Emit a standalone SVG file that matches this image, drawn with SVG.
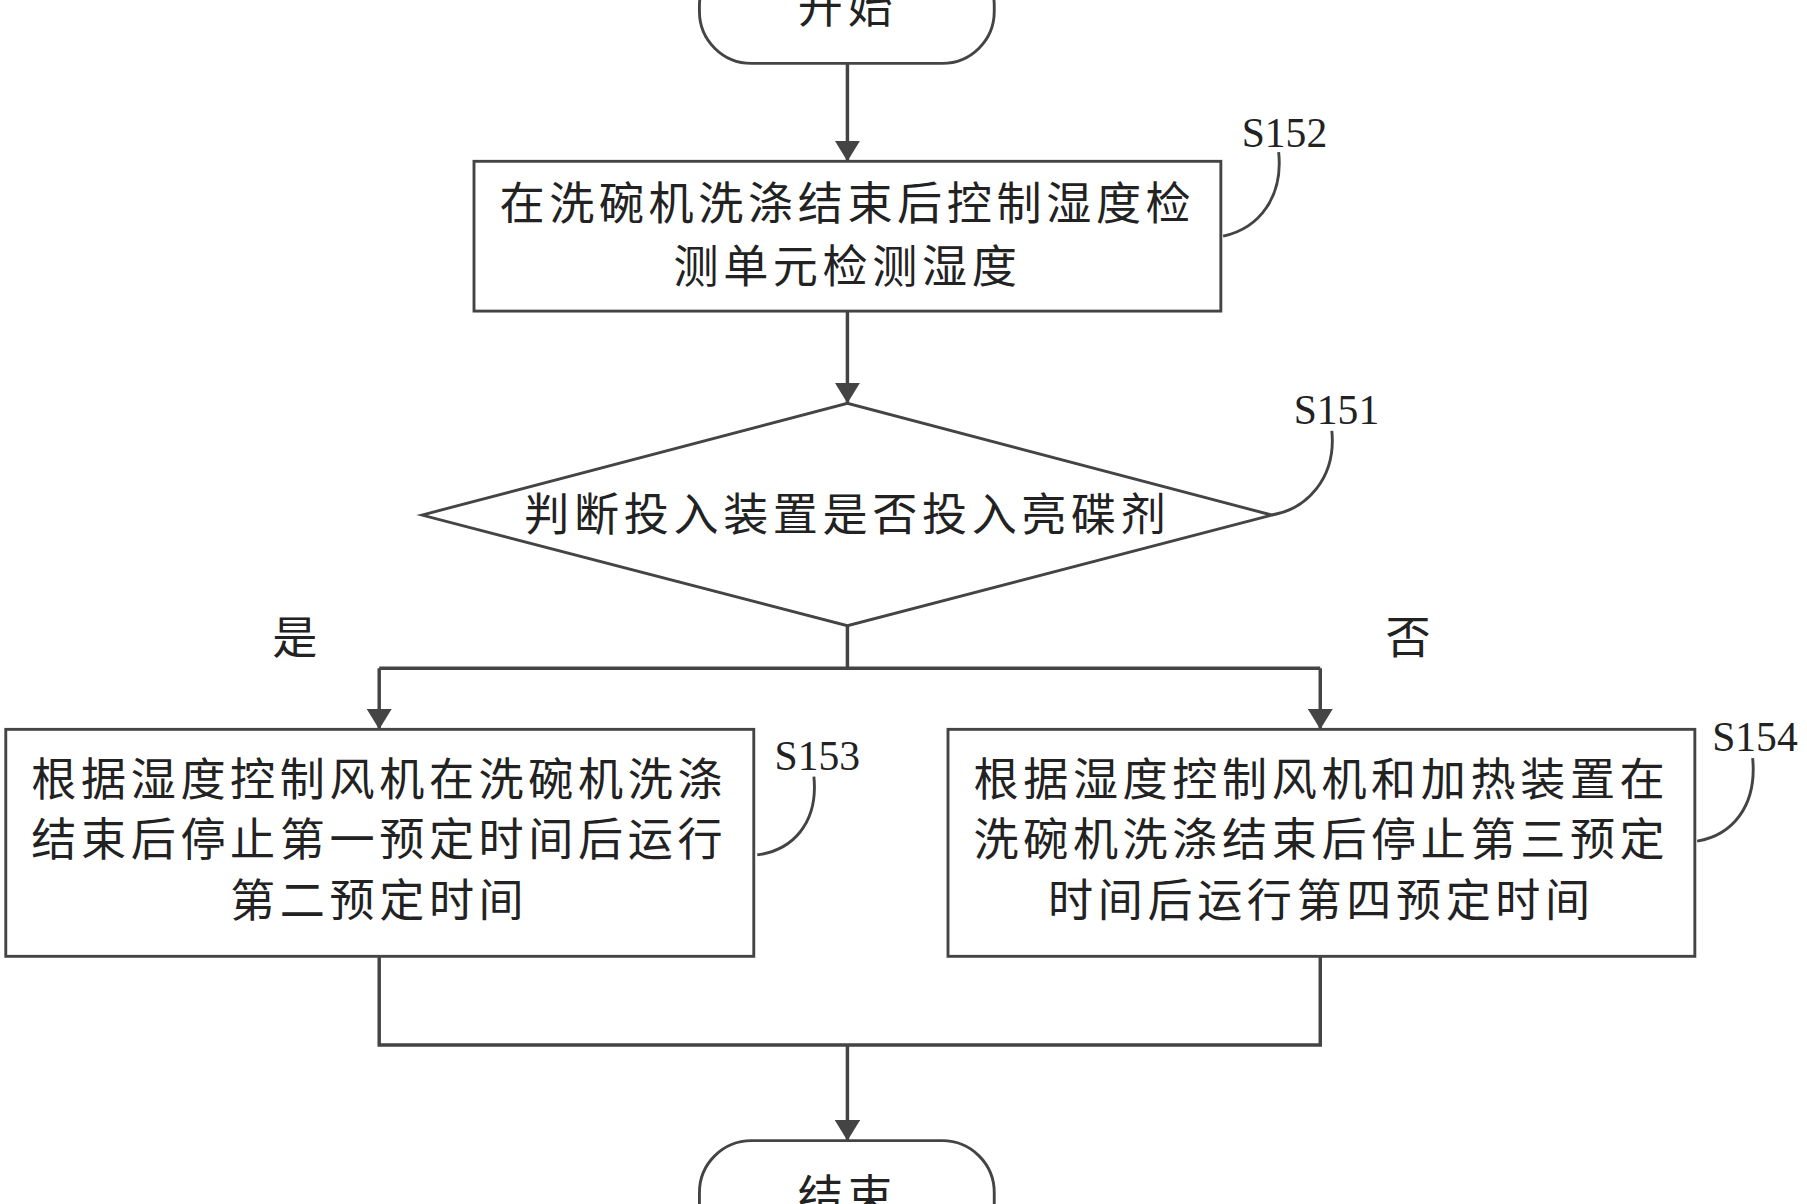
<svg xmlns="http://www.w3.org/2000/svg" width="1807" height="1204" viewBox="0 0 1807 1204">
<defs>
<style>
.s{fill:#fff;stroke:#444;stroke-width:2.5}
.l{fill:none;stroke:#444;stroke-width:2.5}
.a{fill:none;stroke:#444;stroke-width:3}
.t{font-family:"Noto Sans CJK SC","Liberation Serif",sans-serif;font-size:39px;letter-spacing:4px;fill:#222;text-anchor:middle}
.n{font-family:"Liberation Serif",serif;font-size:36px;fill:#222;text-anchor:middle}
</style>
<marker id="m" viewBox="0 0 12 12" refX="12" refY="6" markerWidth="18" markerHeight="22" markerUnits="userSpaceOnUse" orient="auto" preserveAspectRatio="none"><path d="M0,0 L12,6 L0,12 z" fill="#444"/></marker>
</defs>
<rect width="1807" height="1204" fill="#fff"/>
<g transform="scale(1.1561,1.1522)">
<g id="connectors">
<line class="a" x1="733" y1="55" x2="733" y2="140" marker-end="url(#m)"/>
<line class="a" x1="733" y1="270" x2="733" y2="350" marker-end="url(#m)"/>
<polyline class="a" points="733,543 733,580"/>
<polyline class="a" points="328,580 1142,580"/>
<line class="a" x1="328" y1="580" x2="328" y2="633" marker-end="url(#m)"/>
<line class="a" x1="1142" y1="580" x2="1142" y2="633" marker-end="url(#m)"/>
<polyline class="a" points="328,830 328,907 1142,907 1142,830"/>
<line class="a" x1="733" y1="907" x2="733" y2="990" marker-end="url(#m)"/>
<text class="t" x="257" y="568">是</text>
<text class="t" x="1220" y="568">否</text>
</g>
<g id="start"><rect class="s" x="605" y="-40" width="255" height="95" rx="45"/><text class="t" x="733" y="20">开始</text></g>
<g id="s152">
<rect class="s" x="410" y="140" width="646" height="130"/>
<text class="t" x="733" y="191">在洗碗机洗涤结束后控制湿度检</text>
<text class="t" x="733" y="246">测单元检测湿度</text>
<text class="n" x="1111" y="128">S152</text>
<path class="l" d="M1106,132 C1110,170 1090,198 1058,205"/>
</g>
<g id="s151">
<polygon class="s" points="365,447 733,350 1100,447 733,543"/>
<text class="t" x="733" y="461">判断投入装置是否投入亮碟剂</text>
<text class="n" x="1156" y="368">S151</text>
<path class="l" d="M1152,374 C1156,415 1130,442 1100,447"/>
</g>
<g id="s153">
<rect class="s" x="5" y="633" width="647" height="197"/>
<text class="t" x="328" y="691">根据湿度控制风机在洗碗机洗涤</text>
<text class="t" x="328" y="743">结束后停止第一预定时间后运行</text>
<text class="t" x="328" y="796">第二预定时间</text>
<text class="n" x="707" y="668">S153</text>
<path class="l" d="M704,674 C708,715 685,738 655,742"/>
</g>
<g id="s154">
<rect class="s" x="820" y="633" width="646" height="197"/>
<text class="t" x="1143" y="691">根据湿度控制风机和加热装置在</text>
<text class="t" x="1143" y="743">洗碗机洗涤结束后停止第三预定</text>
<text class="t" x="1143" y="796">时间后运行第四预定时间</text>
<text class="n" x="1518" y="652">S154</text>
<path class="l" d="M1516,658 C1520,700 1498,725 1468,730"/>
</g>
<g id="end"><rect class="s" x="605" y="990" width="255" height="110" rx="45"/><text class="t" x="733" y="1053">结束</text></g>
</g>
</svg>
